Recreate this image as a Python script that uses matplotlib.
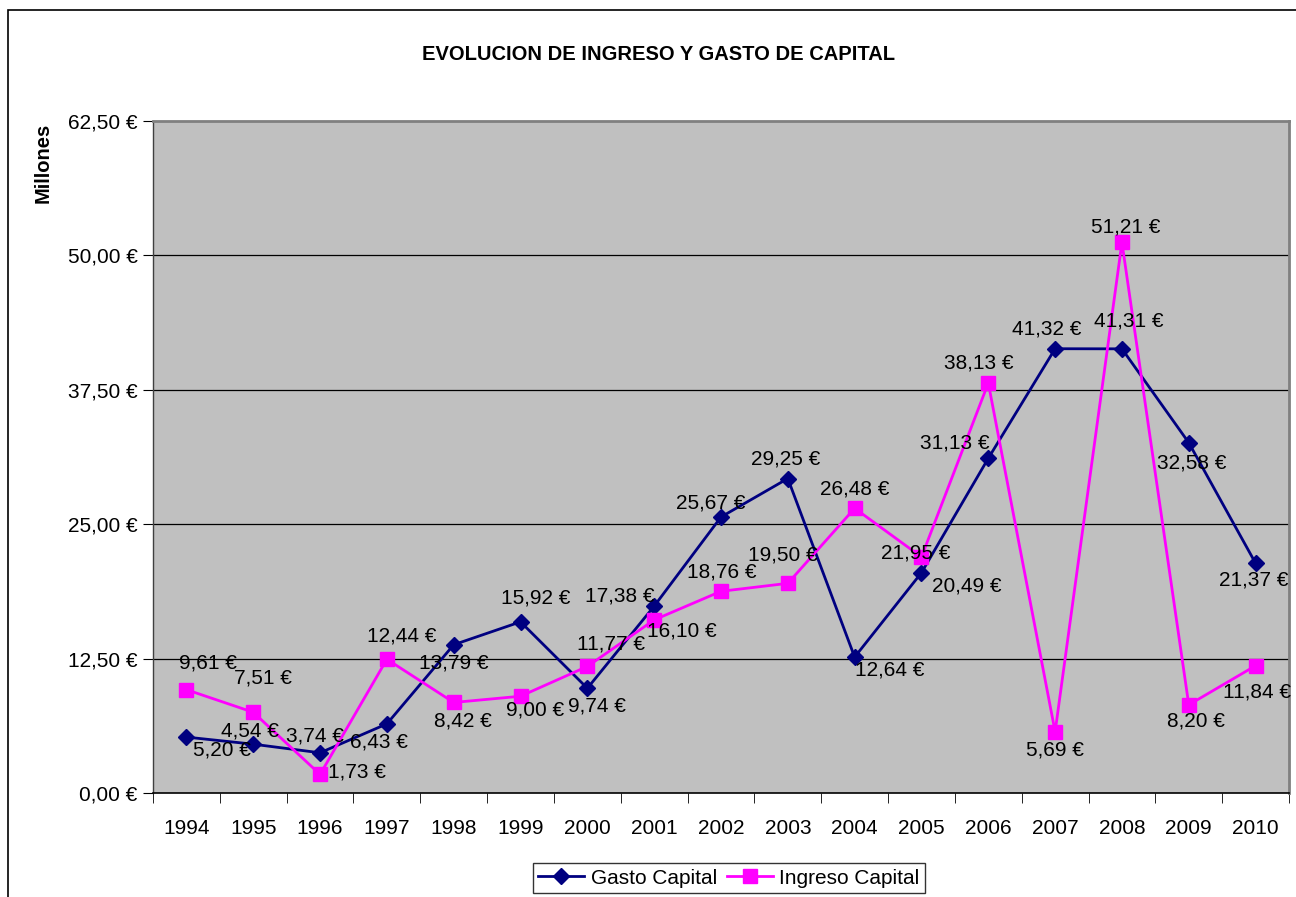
import matplotlib
matplotlib.use("Agg")
import matplotlib.pyplot as plt
from matplotlib.patches import Rectangle

plt.rcParams['font.family'] = ['Liberation Sans', 'DejaVu Sans']

# data
years = ['1994', '1995', '1996', '1997', '1998', '1999', '2000', '2001', '2002',
         '2003', '2004', '2005', '2006', '2007', '2008', '2009', '2010']
gasto = [5.20, 4.54, 3.74, 6.43, 13.79, 15.92, 9.74, 17.38, 25.67,
         29.25, 12.64, 20.49, 31.13, 41.32, 41.31, 32.58, 21.37]
ingreso = [9.61, 7.51, 1.73, 12.44, 8.42, 9.00, 11.77, 16.10, 18.76,
           19.50, 26.48, 21.95, 38.13, 5.69, 51.21, 8.20, 11.84]
yticks = [0, 12.5, 25, 37.5, 50, 62.5]

# label offsets in pixels (dx, dy up)
off_gasto = [(36, -13), (-3, 13), (-5, 17), (-8, -18), (0, -18), (15, 24), (10, -18),
             (-34, 10), (-10, 14), (-2, 20), (35, -13), (45, -13), (-34, 15),
             (-8, 20), (7, 28), (3, -20), (-2, -17)]
off_ingreso = [(22, 27), (10, 34), (37, 2), (15, 23), (9, -19), (15, -14), (24, 22),
               (28, -11), (1, 19), (-5, 28), (0, 19), (-6, 4), (-10, 20), (0, -18),
               (4, 15), (7, -16), (1, -26)]

fig = plt.figure(figsize=(12.96, 8.97), dpi=100)
W, H = 1296, 897
# outer chart border
fig.patches.append(Rectangle((8 / W, -0.01), 1.2, 1 - 10 / H + 0.01, transform=fig.transFigure,
                             fill=False, edgecolor='black', linewidth=1.2))

ax = fig.add_axes([153 / W, 1 - 793 / H, (1289 - 153) / W, (793 - 121) / H])
ax.set_facecolor('#c0c0c0')
x = list(range(len(years)))

ax.plot(x, gasto, color='#000080', marker='D', markersize=8, linewidth=2, zorder=3,
        label='Gasto Capital')
ax.plot(x, ingreso, color='#ff00ff', marker='s', markersize=10, linewidth=2, zorder=3,
        label='Ingreso Capital')

for i in x:
    ax.annotate(f"{gasto[i]:.2f} €".replace('.', ','), (i, gasto[i]),
                xytext=off_gasto[i], textcoords='offset pixels',
                ha='center', va='center', fontsize=15, zorder=4)
    ax.annotate(f"{ingreso[i]:.2f} €".replace('.', ','), (i, ingreso[i]),
                xytext=off_ingreso[i], textcoords='offset pixels',
                ha='center', va='center', fontsize=15, zorder=4)

ax.set_xlim(-0.5, len(years) - 0.5)
ax.set_ylim(0, 62.5)
ax.set_yticks(yticks)
ax.set_yticklabels([f"{v:.2f} €".replace('.', ',') for v in yticks], fontsize=15)
ax.set_xticks(x)
ax.set_xticklabels(years, fontsize=15)
ax.set_xticks([i - 0.5 for i in range(len(years) + 1)], minor=True)
ax.tick_params(axis='x', which='major', length=0, pad=19)
ax.tick_params(axis='x', which='minor', length=7, color='black')
ax.tick_params(axis='y', length=7, pad=4, color='black')
for v in yticks[1:-1]:
    ax.axhline(v, color='black', linewidth=0.9, zorder=1)

for s in ['top', 'right']:
    ax.spines[s].set_color('#808080')
    ax.spines[s].set_linewidth(2)
ax.spines['left'].set_color('#404040')
ax.spines['bottom'].set_color('black')
ax.spines['left'].set_linewidth(1)
ax.spines['bottom'].set_linewidth(1.2)

fig.text(658 / W, 1 - 55 / H, 'EVOLUCION DE INGRESO Y GASTO DE CAPITAL',
         ha='center', va='center', fontsize=14.5, fontweight='bold')
fig.text(43 / W, 1 - 163 / H, 'Millones', rotation=90, ha='center', va='center',
         fontsize=14.5, fontweight='bold')

leg = fig.legend(loc='center', bbox_to_anchor=(729 / W, 1 - 878 / H), ncol=2,
                 fontsize=15, frameon=True, fancybox=False, edgecolor='black',
                 handlelength=2.2, handletextpad=0.3, columnspacing=0.5,
                 borderpad=0.25, borderaxespad=0)
leg.get_frame().set_linewidth(1)

fig.savefig('out.png', dpi=100)
